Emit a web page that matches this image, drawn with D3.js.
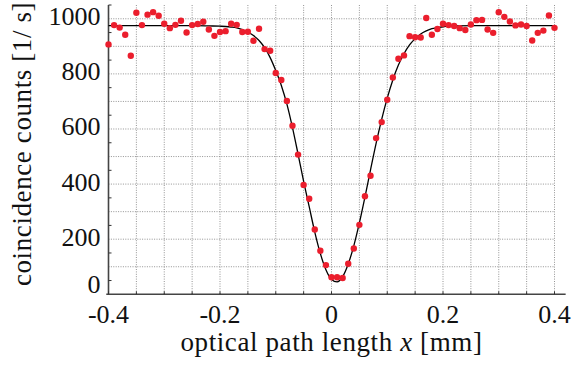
<!DOCTYPE html>
<html>
<head>
<meta charset="utf-8">
<script src="https://cdn.jsdelivr.net/npm/d3@7"></script>
<style>
  body { margin: 0; background: #fff; }
</style>
</head>
<body>
<div id="chart"></div>
<script>
// measured points: optical path length [mm] and coincidence counts [1/s]
const pathLength = [-0.40, -0.39, -0.38, -0.37, -0.36, -0.35, -0.34, -0.33, -0.32, -0.31,
  -0.30, -0.29, -0.28, -0.27, -0.26, -0.25, -0.24, -0.23, -0.22, -0.21,
  -0.20, -0.19, -0.18, -0.17, -0.16, -0.15, -0.14, -0.13, -0.12, -0.11,
  -0.10, -0.09, -0.08, -0.07, -0.06, -0.05, -0.04, -0.03, -0.02, -0.01,
  0.00, 0.01, 0.02, 0.03, 0.04, 0.05, 0.06, 0.07, 0.08, 0.09,
  0.10, 0.11, 0.12, 0.13, 0.14, 0.15, 0.16, 0.17, 0.18, 0.19,
  0.20, 0.21, 0.22, 0.23, 0.24, 0.25, 0.26, 0.27, 0.28, 0.29,
  0.30, 0.31, 0.32, 0.33, 0.34, 0.35, 0.36, 0.37, 0.38, 0.39, 0.40];
const counts = [907, 977, 968, 942, 866, 1022, 977, 1015, 1024, 1011,
  982, 966, 978, 993, 950, 977, 981, 989, 961, 938,
  952, 955, 982, 978, 952, 953, 920, 964, 890, 884,
  803, 778, 702, 612, 507, 397, 347, 235, 158, 106,
  62, 62, 59, 111, 166, 252, 356, 430, 567, 625,
  706, 787, 855, 867, 937, 933, 932, 1003, 942, 963,
  982, 977, 974, 966, 959, 979, 995, 996, 961, 949,
  1024, 1007, 990, 976, 979, 974, 921, 949, 957, 1012, 967];

// fitted curve
const fitX = [-0.40, -0.30, -0.24, -0.22, -0.20, -0.19, -0.18, -0.17, -0.16, -0.15,
  -0.14, -0.13, -0.12, -0.11, -0.10, -0.09, -0.08, -0.07, -0.06, -0.05,
  -0.04, -0.03, -0.02, -0.01, 0.00, 0.01, 0.02, 0.03, 0.04, 0.05,
  0.06, 0.07, 0.08, 0.09, 0.10, 0.11, 0.12, 0.13, 0.14, 0.15,
  0.16, 0.17, 0.18, 0.19, 0.20, 0.21, 0.22, 0.26, 0.30, 0.40];
const fitY = [975, 975, 975, 974, 973, 972, 970, 967, 961, 952,
  939, 921, 895, 859, 812, 758, 690, 605, 509, 410,
  318, 226, 148, 89, 54, 45, 64, 110, 176, 259,
  353, 452, 548, 635, 712, 778, 832, 873, 905, 928,
  945, 956, 964, 968, 971, 973, 974, 975, 975, 975];

const xLabels = [-0.4, -0.2, 0, 0.2, 0.4];
const xGrid = [-0.4, -0.35, -0.3, -0.25, -0.2, -0.15, -0.1, -0.05, 0, 0.05, 0.1, 0.15, 0.2, 0.25, 0.3, 0.35, 0.4];
const yLabels = [0, 200, 400, 600, 800, 1000];
const yGrid = [100, 200, 300, 400, 500, 600, 700, 800, 900, 1000];
const yMinor = [50, 150, 250, 350, 450, 550, 650, 750, 850, 950, 1050];

const serif = "'Liberation Serif', 'Times New Roman', 'DejaVu Serif', serif";

const margin = { top: 5, right: 6, bottom: 72.7, left: 108.5 },
      width = 571 - margin.left - margin.right,
      height = 367 - margin.top - margin.bottom;

const svg = d3.select("#chart")
  .append("svg")
  .attr("width", 571)
  .attr("height", 367)
  .attr("font-family", serif)
  .append("g")
  .attr("transform", `translate(${margin.left},${margin.top})`);

const x = d3.scaleLinear().domain([-0.4, 0.4]).range([0, 446]);
const y = d3.scaleLinear().domain([0, 1050]).range([height, 0]);

// dotted grid
svg.append("g")
  .selectAll("line")
  .data(xGrid.slice(1))
  .enter().append("line")
  .attr("x1", d => x(d)).attr("x2", d => x(d))
  .attr("y1", y(1050)).attr("y2", y(0))
  .attr("stroke", "#888").attr("stroke-width", 0.9)
  .attr("stroke-dasharray", "1,1.4");

svg.append("g")
  .selectAll("line")
  .data(yGrid)
  .enter().append("line")
  .attr("x1", x(-0.4)).attr("x2", x(0.4))
  .attr("y1", d => y(d)).attr("y2", d => y(d))
  .attr("stroke", "#888").attr("stroke-width", 0.9)
  .attr("stroke-dasharray", "1,1.4");

// axis lines
svg.append("line")
  .attr("x1", x(-0.404)).attr("x2", x(0.42))
  .attr("y1", y(0)).attr("y2", y(0))
  .attr("stroke", "#444").attr("stroke-width", 1.6);
svg.append("line")
  .attr("x1", x(-0.4)).attr("x2", x(-0.4))
  .attr("y1", y(1050)).attr("y2", y(0))
  .attr("stroke", "#444").attr("stroke-width", 1.6);

// small inward ticks
svg.append("g")
  .selectAll("line")
  .data(xGrid)
  .enter().append("line")
  .attr("x1", d => x(d)).attr("x2", d => x(d))
  .attr("y1", y(0)).attr("y2", y(0) - 3)
  .attr("stroke", "#333").attr("stroke-width", 1);
svg.append("g")
  .selectAll("line")
  .data(yMinor)
  .enter().append("line")
  .attr("x1", x(-0.4)).attr("x2", x(-0.4) + 3)
  .attr("y1", d => y(d)).attr("y2", d => y(d))
  .attr("stroke", "#333").attr("stroke-width", 1);

// tick labels
svg.append("g")
  .selectAll("text")
  .data(xLabels)
  .enter().append("text")
  .attr("x", d => x(d))
  .attr("y", y(0) + 29)
  .attr("text-anchor", "middle")
  .attr("font-family", serif)
  .attr("font-size", 26)
  .attr("fill", "#111")
  .text(d => d === 0 ? "0" : (d < 0 ? "-" : "") + Math.abs(d).toFixed(1));

svg.append("g")
  .selectAll("text")
  .data(yLabels)
  .enter().append("text")
  .attr("x", x(-0.4) - 8)
  .attr("y", d => y(d) + (d === 0 ? -1.5 : 6.5))
  .attr("text-anchor", "end")
  .attr("font-family", serif)
  .attr("font-size", 26)
  .attr("fill", "#111")
  .text(d => d);

// fit curve
const line = d3.line()
  .x((d, i) => x(fitX[i]))
  .y(d => y(d))
  .curve(d3.curveMonotoneX);

svg.append("path")
  .datum(fitY)
  .attr("d", line)
  .attr("fill", "none")
  .attr("stroke", "#000")
  .attr("stroke-width", 1.3);

// data points
svg.append("g")
  .selectAll("circle")
  .data(counts)
  .enter().append("circle")
  .attr("cx", (d, i) => x(pathLength[i]))
  .attr("cy", d => y(d))
  .attr("r", 3.2)
  .attr("fill", "#eb1e2d");

// axis titles
const xt = svg.append("text")
  .attr("x", x(0))
  .attr("y", height + 57)
  .attr("text-anchor", "middle")
  .attr("font-family", serif)
  .attr("font-size", 27)
  .attr("letter-spacing", 0.6)
  .attr("fill", "#111");
xt.append("tspan").text("optical path length ");
xt.append("tspan").attr("font-style", "italic").text("x");
xt.append("tspan").text(" [mm]");

svg.append("text")
  .attr("transform", `translate(${31 - margin.left},${144 - margin.top}) rotate(-90)`)
  .attr("text-anchor", "middle")
  .attr("font-family", serif)
  .attr("font-size", 27)
  .attr("letter-spacing", 0.6)
  .attr("fill", "#111")
  .text("coincidence counts [1/ s]");
</script>
</body>
</html>
